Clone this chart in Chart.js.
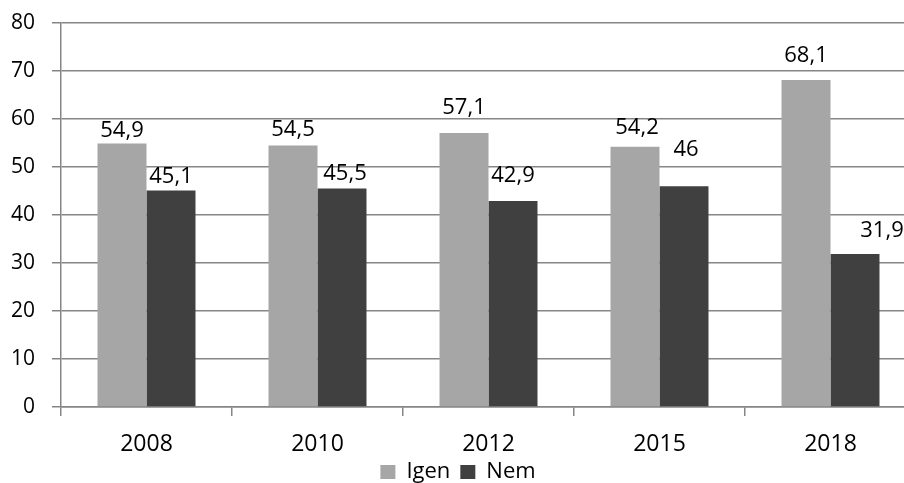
<!DOCTYPE html>
<html lang="hu">
<head>
<meta charset="UTF-8">
<title>Igen / Nem</title>
<script src="https://cdn.jsdelivr.net/npm/chart.js"></script>
<style>
    html, body { margin: 0; padding: 0; background: #fff; overflow: hidden; }
    #wrap { width: 904px; height: 483px; overflow: hidden; }
    #wrap div { width: 940px; height: 483px; position: relative; }
</style>
</head>
<body>
<div id="wrap"><div><canvas id="chart"></canvas></div></div>
<script>
    // Évek és a két válasz aránya (%)
    const years = ['2008', '2010', '2012', '2015', '2018'];
    const igen = [54.9, 54.5, 57.1, 54.2, 68.1];
    const nem = [45.1, 45.5, 42.9, 46, 31.9];
    const yTicks = [0, 10, 20, 30, 40, 50, 60, 70, 80];

    // Címkék kézi eltolása: [vízszintes, távolság az oszlop tetejétől]
    const igenLabelShift = [[0, 6], [0, 9], [0, 19], [2, 13], [0, 18]];
    const nemLabelShift = [[0, 8], [3, 9], [0, 19], [2, 30], [27, 17]];

    const FONT = "'Open Sans', sans-serif";
    const fmt = v => String(v).replace('.', ',');

    // Értékcímkék az oszlopok fölé
    const valueLabels = {
        id: 'valueLabels',
        afterDatasetsDraw(chart) {
            const ctx = chart.ctx;
            ctx.save();
            ctx.font = '22px ' + FONT;
            ctx.fillStyle = '#000';
            ctx.textAlign = 'center';
            ctx.textBaseline = 'alphabetic';
            chart.data.datasets.forEach((ds, i) => {
                const shifts = i === 0 ? igenLabelShift : nemLabelShift;
                chart.getDatasetMeta(i).data.forEach((bar, j) => {
                    const [dx, gap] = shifts[j];
                    ctx.fillText(fmt(ds.data[j]), bar.x + dx, bar.y - gap);
                });
            });
            ctx.restore();
        }
    };

    new Chart(document.getElementById('chart'), {
        type: 'bar',
        data: {
            labels: years,
            datasets: [
                { label: 'Igen', data: igen, backgroundColor: '#a6a6a6' },
                { label: 'Nem', data: nem, backgroundColor: '#404040' }
            ]
        },
        options: {
            responsive: true,
            maintainAspectRatio: false,
            animation: false,
            devicePixelRatio: 1,
            datasets: { bar: { categoryPercentage: 0.573, barPercentage: 1 } },
            layout: { padding: { left: 0, top: 23, right: 24, bottom: 0 } },
            plugins: {
                tooltip: { enabled: false },
                legend: {
                    position: 'bottom',
                    maxHeight: 32,
                    labels: {
                        font: { family: FONT, size: 22 },
                        color: '#000',
                        boxWidth: 15,
                        boxHeight: 14,
                        padding: 10
                    }
                }
            },
            scales: {
                x: {
                    grid: { drawOnChartArea: false, tickLength: 9, color: '#868686', lineWidth: 1.5 },
                    border: { color: '#868686', width: 1.5 },
                    ticks: { font: { family: FONT, size: 23 }, color: '#000', padding: 15 },
                    afterFit(scale) { scale.height = 44; }
                },
                y: {
                    min: 0,
                    max: 80,
                    afterBuildTicks(scale) { scale.ticks = yTicks.map(v => ({ value: v })); },
                    grid: { tickLength: 9, color: '#868686', lineWidth: 1.5 },
                    border: { color: '#868686', width: 1.5 },
                    ticks: { font: { family: FONT, size: 21 }, color: '#000', padding: 17 },
                    afterFit(scale) {
                        scale.width = 61;
                        scale.paddingTop = 0;
                        scale.paddingBottom = 0;
                    }
                }
            }
        },
        plugins: [valueLabels]
    });
</script>
</body>
</html>
